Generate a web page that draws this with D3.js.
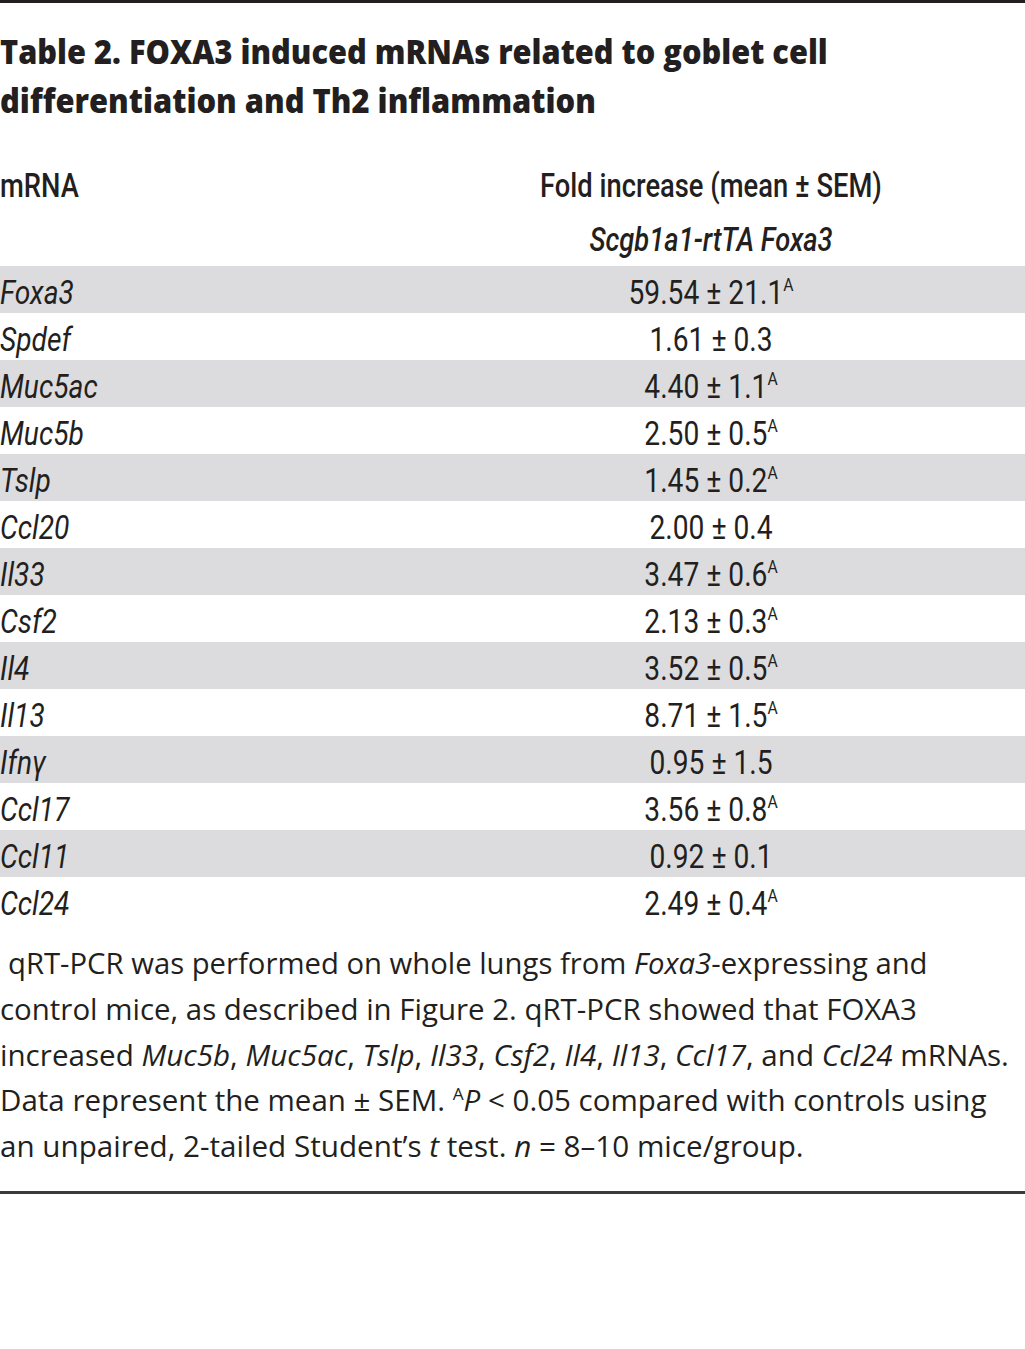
<!DOCTYPE html>
<html>
<head>
<meta charset="utf-8">
<script src="https://cdn.jsdelivr.net/npm/d3@7"></script>
<style>
  html, body { margin: 0; padding: 0; background: #fff; }
  svg { display: block; }
</style>
</head>
<body>
<div id="chart"></div>
<script>
// ---------- DATA ----------
const titleLines = [
  "Table 2. FOXA3 induced mRNAs related to goblet cell",
  "differentiation and Th2 inflammation"
];
const colHeaders = ["mRNA", "Fold increase (mean \u00B1 SEM)"];
const subHeader = "Scgb1a1-rtTA Foxa3";
const genes = ["Foxa3", "Spdef", "Muc5ac", "Muc5b", "Tslp", "Ccl20", "Il33", "Csf2", "Il4", "Il13", "Ifn\u03B3", "Ccl17", "Ccl11", "Ccl24"];
const means = ["59.54", "1.61", "4.40", "2.50", "1.45", "2.00", "3.47", "2.13", "3.52", "8.71", "0.95", "3.56", "0.92", "2.49"];
const sems  = ["21.1", "0.3", "1.1", "0.5", "0.2", "0.4", "0.6", "0.3", "0.5", "1.5", "1.5", "0.8", "0.1", "0.4"];
const significant = [true, false, true, true, true, false, true, true, true, true, false, true, false, true];
// footnote lines: segments [text, style] ; style: "n" normal, "i" italic, "s" superscript
const footnoteLines = [
  [["qRT-PCR was performed on whole lungs from ", "n"], ["Foxa3", "i"], ["-expressing and", "n"]],
  [["control mice, as described in Figure 2. qRT-PCR showed that FOXA3", "n"]],
  [["increased ", "n"], ["Muc5b", "i"], [", ", "n"], ["Muc5ac", "i"], [", ", "n"], ["Tslp", "i"], [", ", "n"], ["Il33", "i"], [", ", "n"], ["Csf2", "i"], [", ", "n"], ["Il4", "i"], [", ", "n"], ["Il13", "i"], [", ", "n"], ["Ccl17", "i"], [", and ", "n"], ["Ccl24", "i"], [" mRNAs.", "n"]],
  [["Data represent the mean \u00B1 SEM. ", "n"], ["A", "s"], ["P", "i"], [" < 0.05 compared with controls using", "n"]],
  [["an unpaired, 2-tailed Student\u2019s ", "n"], ["t", "i"], [" test. ", "n"], ["n", "i"], [" = 8\u201310 mice/group.", "n"]]
];

// ---------- LAYOUT ----------
const W = 1025, H = 1349;
const ink = "#231f20";
const stripe = "#dcdcde";
const condFont = "Roboto, 'Liberation Sans', sans-serif";
const titleFont = "'Open Sans', 'Noto Sans', sans-serif";
const noteFont = "'Open Sans', 'Noto Sans', sans-serif";
const valueX = 711;

const svg = d3.select("#chart").append("svg")
  .attr("width", W).attr("height", H)
  .attr("viewBox", `0 0 ${W} ${H}`);

svg.append("rect").attr("width", W).attr("height", H).attr("fill", "#fff");

function fitGroup(g, target) {
  const t = g.select("text").node();
  const w = t.getComputedTextLength();
  return target / w;
}

// top rule
svg.append("rect").attr("x", 0).attr("y", 0).attr("width", W).attr("height", 3).attr("fill", ink);

// title
const titleBaselines = [64, 113];
const titleTargets = [828, 596];
titleLines.forEach((line, i) => {
  const g = svg.append("g");
  g.append("text")
    .attr("font-family", titleFont).attr("font-weight", 800).attr("font-size", 34)
    .attr("fill", ink).text(line);
  const s = fitGroup(g, titleTargets[i]);
  g.attr("transform", `translate(0,${titleBaselines[i]}) scale(${s},1)`);
});

// condensed factor from the header
const probe = svg.append("text").attr("font-family", condFont).attr("font-weight", 500)
  .attr("font-size", 33).text(colHeaders[1]);
const condS = 342 / probe.node().getComputedTextLength();
probe.remove();

function condText(x, y, anchor) {
  const g = svg.append("g").attr("transform", `translate(${x},${y}) scale(${condS},1)`);
  return g.append("text").attr("text-anchor", anchor).attr("font-family", condFont).attr("fill", ink);
}

// headers
condText(0, 197, "start").attr("font-weight", 500).attr("font-size", 33).text(colHeaders[0]);
condText(valueX, 197, "middle").attr("font-weight", 500).attr("font-size", 33).text(colHeaders[1]);
condText(valueX, 251, "middle").attr("font-weight", 500).attr("font-style", "italic").attr("font-size", 33).text(subHeader);

// rows
const y = d3.scaleBand().domain(genes).range([266, 924]).padding(0);
const rows = genes.map((g, i) => ({ gene: g, mean: means[i], sem: sems[i], sig: significant[i], i }));

svg.append("g").selectAll("rect").data(rows).join("rect")
  .attr("x", 0).attr("width", W)
  .attr("y", d => y(d.gene)).attr("height", y.bandwidth())
  .attr("fill", d => d.i % 2 === 0 ? stripe : "#fff");

rows.forEach(d => {
  const base = y(d.gene) + y.bandwidth() * 0.8;
  condText(0, base, "start").attr("font-weight", 400).attr("font-style", "italic")
    .attr("font-size", 34).text(d.gene);
  const t = condText(valueX, base, "middle").attr("font-weight", 400).attr("font-size", 34);
  t.append("tspan").text(`${d.mean} \u00B1 ${d.sem}`);
  if (d.sig) {
    t.append("tspan").attr("font-size", 19).attr("dy", -13).text("A");
  }
});

// footnote
const noteTargets = [[8, 928], [0, 917], [0, 1009], [0, 987], [0, 804]];
footnoteLines.forEach((segs, i) => {
  const base = 974 + 45.8 * i;
  const g = svg.append("g");
  const t = g.append("text").attr("font-family", noteFont).attr("font-size", 29).attr("fill", ink);
  let raised = false;
  segs.forEach(([txt, st]) => {
    const ts = t.append("tspan").text(txt);
    if (st === "i") ts.attr("font-style", "italic");
    if (st === "s") { ts.attr("font-size", 17).attr("dy", -11); raised = true; }
    else if (raised) { ts.attr("dy", 11); raised = false; }
  });
  const [x0, x1] = noteTargets[i];
  const s = fitGroup(g, x1 - x0);
  g.attr("transform", `translate(${x0},${base}) scale(${s},1)`);
});

// bottom rule
svg.append("rect").attr("x", 0).attr("y", 1191).attr("width", W).attr("height", 3).attr("fill", "#3a3a3a");
</script>
</body>
</html>
